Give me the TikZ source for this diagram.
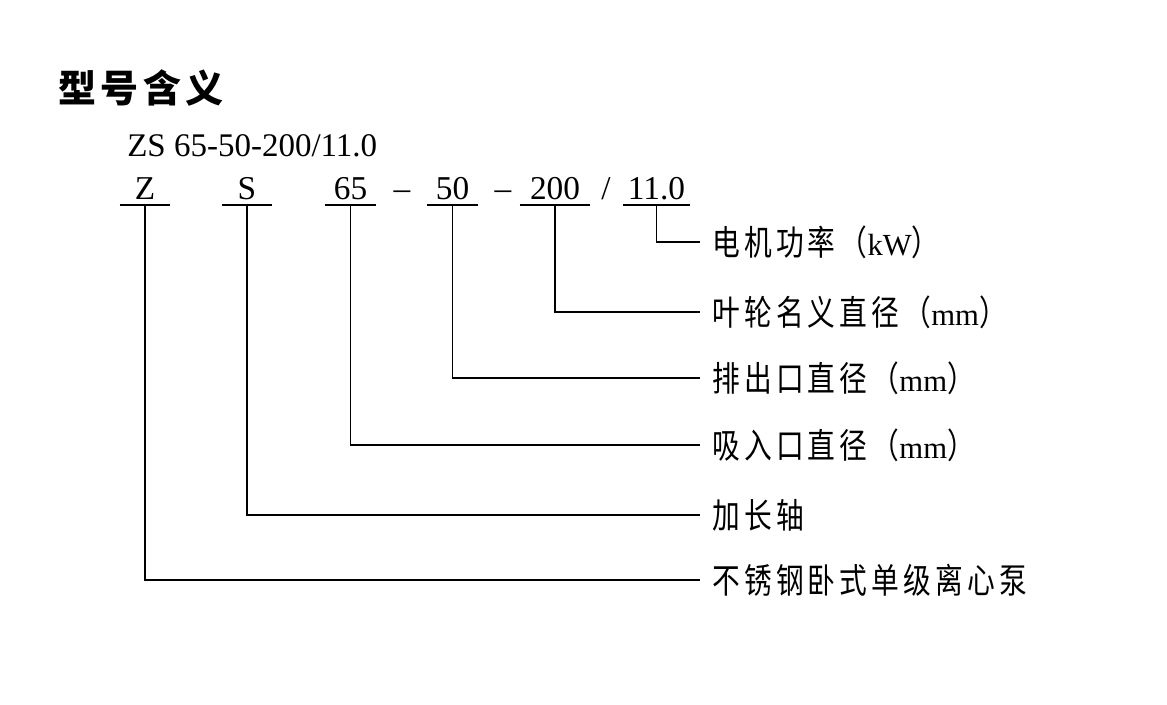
\documentclass[tikz,border=0pt]{standalone}
\usepackage{fontspec}
\setmainfont{Liberation Serif}
\newfontfamily\cjk{Noto Sans CJK SC}[FakeStretch=0.8,LetterSpace=12]
\newfontfamily\cjktitle{Noto Sans CJK SC}[LetterSpace=12]
\begin{document}
\begin{tikzpicture}[x=0.75pt,y=-0.75pt,
  code/.style={anchor=base,inner sep=0pt,font=\fontsize{25pt}{28pt}\selectfont},
  lbl/.style={anchor=west,inner sep=0pt,font=\cjk\fontsize{26pt}{30pt}\selectfont},
  lat/.style={},
  uline/.style={line width=1.4pt},
  conn/.style={line width=1.2pt}]
\useasboundingbox (0,0) rectangle (1167,705);
\node[anchor=west,inner sep=0pt,font=\cjktitle\bfseries\fontsize{28.5pt}{32pt}\selectfont] (title) at (58,88) {型号含义};
\node[anchor=base west,inner sep=0pt,font=\fontsize{24.75pt}{28pt}\selectfont] (model) at (127,157) {ZS 65-50-200/11.0};
% code segments
\node[code,minimum width=50*0.75pt] (cz) at (145,200) {Z};
\node[code,minimum width=50*0.75pt] (cs) at (247,200) {S};
\node[code,minimum width=51*0.75pt] (c65) at (350.5,200) {65};
\node[code] (d1) at (402,200) {–};
\node[code,minimum width=51*0.75pt] (c50) at (452.5,200) {50};
\node[code] (d2) at (503,200) {–};
\node[code,minimum width=70*0.75pt] (c200) at (555,200) {200};
\node[code] (sl) at (606,200) {/};
\node[code,minimum width=67*0.75pt] (c11) at (656.5,200) {11.0};
% labels
\newcommand\latin[1]{{\rmfamily\fontsize{23pt}{28pt}\selectfont #1}}
\node[lbl] (l11) at (712,242) {电机功率（\latin{kW}）};
\node[lbl] (l200) at (712,312) {叶轮名义直径（\latin{mm}）};
\node[lbl] (l50) at (712,378) {排出口直径（\latin{mm}）};
\node[lbl] (l65) at (712,445) {吸入口直径（\latin{mm}）};
\node[lbl] (ls) at (712,515) {加长轴};
\node[lbl] (lz) at (712,580) {不锈钢卧式单级离心泵};
% underlines and connectors
\foreach \n/\l in {cz/lz,cs/ls,c65/l65,c50/l50,c200/l200,c11/l11}{
  \draw[uline] ([yshift=-3.75pt]\n.base west) -- ([yshift=-3.75pt]\n.base east);
  \draw[conn] ([yshift=-3.75pt]\n.base) |- ([xshift=-9pt]\l.west);
}
\end{tikzpicture}
\end{document}
